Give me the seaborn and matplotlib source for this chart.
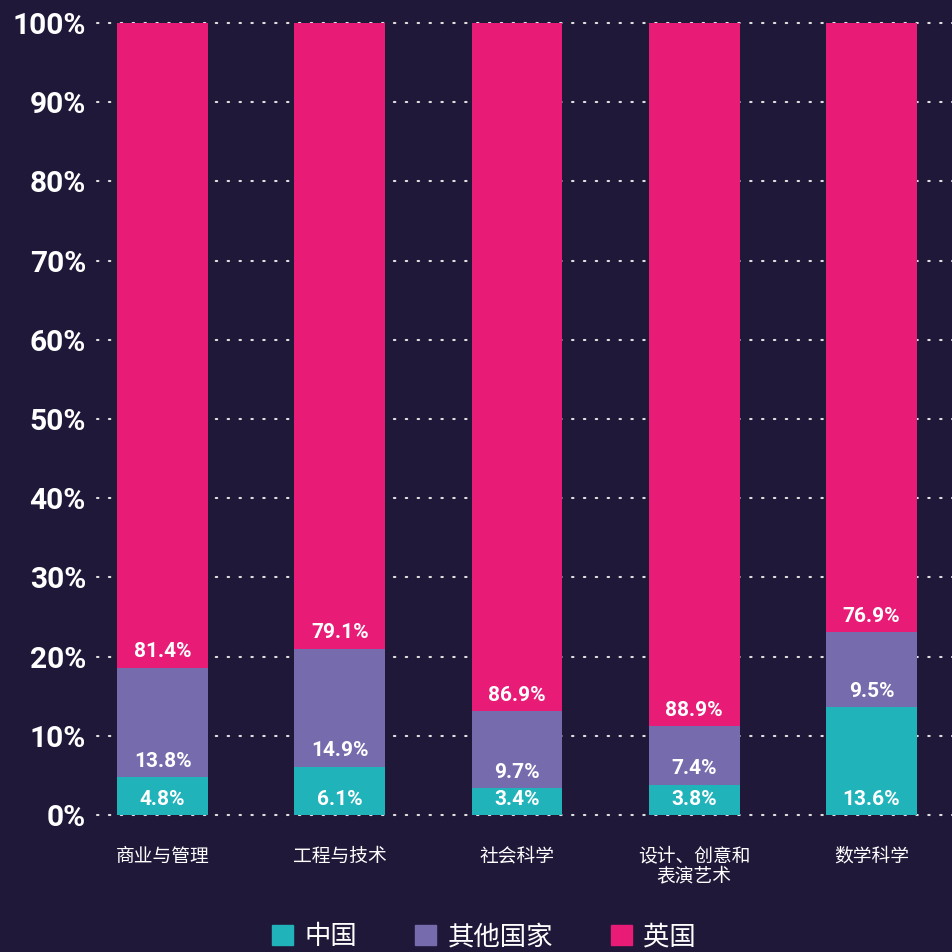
import matplotlib
matplotlib.use("Agg")
import matplotlib.pyplot as plt
import seaborn as sns
import pandas as pd
import numpy as np

categories = ["商业与管理", "工程与技术", "社会科学", "设计、创意和\n表演艺术", "数学科学"]
china = [4.8, 6.1, 3.4, 3.8, 13.6]
other = [13.8, 14.9, 9.7, 7.4, 9.5]
uk = [81.4, 79.1, 86.9, 88.9, 76.9]
series_names = ["中国", "其他国家", "英国"]
yticks = [0, 10, 20, 30, 40, 50, 60, 70, 80, 90, 100]
ytick_labels = [f"{v}%" for v in yticks]

BG = "#201839"
colors = ["#20B3BA", "#766BAD", "#E81C77"]

sns.set_theme(style="dark")
plt.rcParams["font.family"] = ["Roboto", "Noto Sans CJK SC", "DejaVu Sans"]

fig = plt.figure(figsize=(9.53, 9.52), dpi=100, facecolor=BG)
ax = fig.add_axes([97 / 953, 137 / 952, 1 - 97 / 953, (815 - 23) / 952])
ax.set_facecolor(BG)

df = pd.DataFrame({"cat": categories, "中国": china, "其他国家": other, "英国": uk})
layers = [df["中国"].to_numpy(), df["其他国家"].to_numpy(), df["英国"].to_numpy()]
cum = np.cumsum(np.vstack(layers), axis=0)
bottoms = np.vstack([np.zeros(len(categories)), cum[:-1]])

# draw from tallest cumulative to smallest so stacks appear
for k in [2, 1, 0]:
    sns.barplot(x=df["cat"], y=cum[k], color=colors[k], saturation=1, width=0.513,
                ax=ax, zorder=3, linewidth=0, order=categories)

for k in range(3):
    for i in range(len(categories)):
        ax.annotate(f"{layers[k][i]:.1f}%", xy=(i, bottoms[k][i]), xytext=(0, 7.5),
                    textcoords="offset points", ha="center", va="baseline",
                    color="white", fontsize=15, fontweight="bold", zorder=5,
                    family=["Roboto", "DejaVu Sans"])

ax.set_ylim(0, 100)
ax.set_xlim(-0.37, 4.46)
ax.set_yticks(yticks)
ax.set_yticklabels(ytick_labels)
ax.set_xlabel("")
ax.set_ylabel("")
for s in ax.spines.values():
    s.set_visible(False)
ax.grid(False)
for v in yticks:
    ax.axhline(v, color="#e0e0e0", linestyle=(0, (0.7, 5.0)), linewidth=1.5,
               dash_capstyle="round", zorder=1, clip_on=False)

ax.tick_params(axis="y", length=0, pad=8, labelcolor="white", labelsize=21.5)
for t in ax.get_yticklabels():
    t.set_fontweight("bold")
    t.set_family(["Roboto", "DejaVu Sans"])
ax.tick_params(axis="x", length=0, pad=22, labelcolor="white", labelsize=13.5)
for t in ax.get_xticklabels():
    t.set_family(["Noto Sans CJK SC", "DejaVu Sans"])
    t.set_linespacing(0.95)

handles = [plt.Rectangle((0, 0), 1, 1, color=c) for c in colors]
fig.legend(handles, series_names, loc="center", bbox_to_anchor=(0.508, 15 / 952),
           ncol=3, frameon=False, handlelength=0.8, handleheight=0.8,
           handletextpad=0.42, columnspacing=2.2, labelcolor="white",
           prop={"family": ["Noto Sans CJK SC", "DejaVu Sans"], "size": 19,
                 "weight": "medium"})

fig.savefig("out.png", dpi=100, facecolor=BG)
